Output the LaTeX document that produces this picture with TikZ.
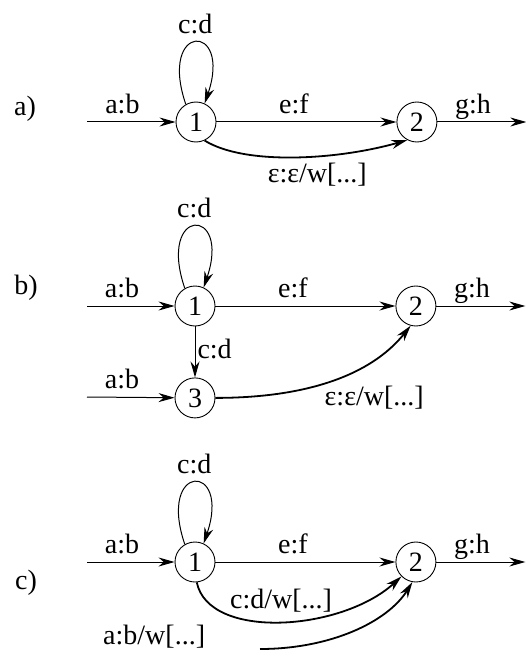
\documentclass[tikz,border=0pt]{standalone}
\usepackage{fontspec}
\setmainfont{Liberation Serif}
\usetikzlibrary{arrows.meta,positioning}

\begin{document}
\begin{tikzpicture}[
    x=1pt, y=1pt,
    node distance=180pt,
    font=\fontsize{28}{32}\selectfont,
    state/.style={draw, circle, minimum size=40pt, inner sep=0pt, line width=0.9pt},
    lbl/.style={text height=19pt, text depth=6pt, inner sep=2pt},
    link/.style={-{Stealth[length=16pt, width=9pt]}, line width=1pt},
    wlink/.style={link, line width=1.8pt}
]
\useasboundingbox (0,0) rectangle (526,-650);

% a)
\node (la) at (25,-109) {a)};
\node[state] (a1) at (196,-122) {1};
\node[state, right=of a1] (a2) {2};
\coordinate (a0) at (87,-122);
\coordinate[right=89pt of a2] (a3);
\draw[link] (a0) -- node[lbl, above, pos=0.4] {a:b} (a1);
\draw[link] (a1) -- node[lbl, above, pos=0.43] {e:f} (a2);
\draw[link] (a2) -- node[lbl, above, pos=0.4] {g:h} (a3);
\draw[link] (a1.120) .. controls +(-28,82) and +(28,82) .. node[lbl, above] {c:d} (a1.65);
\draw[wlink] (a1.-65) .. controls +(40,-25) and +(-70,-20) .. node[lbl, below=5pt, pos=0.6] {ε:ε/w[...]} (a2.-118);

% b)
\node (lb) at (26,-288) {b)};
\node[state] (b1) at (195,-306) {1};
\node[state, right=of b1] (b2) {2};
\node[state, below=51pt of b1] (b3) {3};
\coordinate (b0) at (87,-306);
\coordinate[right=89pt of b2] (b4);
\coordinate (b5) at (87,-397);
\draw[link] (b0) -- node[lbl, above, pos=0.4] {a:b} (b1);
\draw[link] (b1) -- node[lbl, above, pos=0.43] {e:f} (b2);
\draw[link] (b2) -- node[lbl, above, pos=0.4] {g:h} (b4);
\draw[link] (b1.120) .. controls +(-28,82) and +(28,82) .. node[lbl, above] {c:d} (b1.65);
\draw[link] (b1) -- node[lbl, right] {c:d} (b3);
\draw[link] (b5) -- node[lbl, above, pos=0.4] {a:b} (b3);
\draw[wlink] (b3.east) .. controls +(90,0) and +(-40,-50) .. node[lbl, below right, pos=0.45] {ε:ε/w[...]} (b2.-105);

% c)
\node (lc) at (26,-583) {c)};
\node[state] (c1) at (195,-562) {1};
\node[state, right=of c1] (c2) {2};
\coordinate (c0) at (87,-562);
\coordinate[right=89pt of c2] (c3);
\coordinate (c4) at (260,-649);
\draw[link] (c0) -- node[lbl, above, pos=0.4] {a:b} (c1);
\draw[link] (c1) -- node[lbl, above, pos=0.43] {e:f} (c2);
\draw[link] (c2) -- node[lbl, above, pos=0.4] {g:h} (c3);
\draw[link] (c1.120) .. controls +(-28,82) and +(28,82) .. node[lbl, above] {c:d} (c1.65);
\draw[wlink] (c1.-85) .. controls +(12,-58) and +(-60,-55) .. node[lbl, above=4pt] {c:d/w[...]} (c2.-135);
\draw[wlink] (c4) node[lbl, left=52pt, yshift=11pt] {a:b/w[...]} .. controls +(70,0) and +(-25,-40) .. (c2.-100);
\end{tikzpicture}
\end{document}
